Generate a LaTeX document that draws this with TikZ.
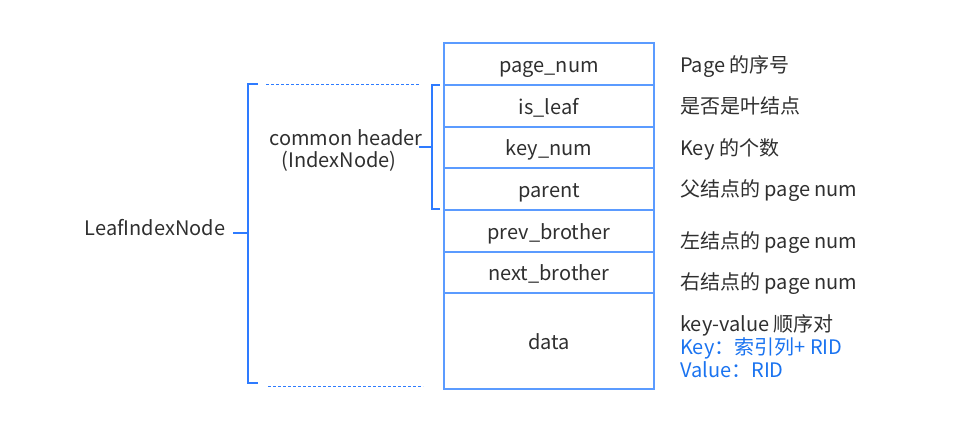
\documentclass[tikz,border=0pt]{standalone}
\usepackage{fontspec}
\setmainfont{Noto Sans CJK SC}
\begin{document}
\begin{tikzpicture}[x=1pt,y=-1pt,
  txt/.style={text=textgray,font=\fontsize{20}{22}\selectfont,inner sep=0pt,text height=14pt,text depth=4pt,yshift=-3pt},
  rtxt/.style={txt,anchor=west},
  btxt/.style={rtxt,text=textblue},
  cell/.style={draw=cellblue,line width=1.1pt},
  brace/.style={draw=braceblue,line width=1.6pt},
  guide/.style={draw=braceblue,line width=1pt,dash pattern=on 3pt off 2pt}]
\definecolor{textgray}{HTML}{2F2F2F}
\definecolor{textblue}{HTML}{1A73F0}
\definecolor{cellblue}{HTML}{5B9BFF}
\definecolor{braceblue}{HTML}{2E7BFF}
\useasboundingbox (0,0) rectangle (968,424);
% table cells
\foreach \a/\b/\n/\t in {43/85/c1/page\_num,85/127/c2/is\_leaf,127/168/c3/key\_num,168/210/c4/parent,210/252/c5/prev\_brother,252/293/c6/next\_brother,293/389/c7/data}{
  \draw[cell] (444,\a) rectangle (654,\b);
  \node[txt] (\n) at (549,{(\a+\b)/2}) {\t};
}
% right texts
\node[rtxt] (r1) at (680,64) {Page 的序号};
\node[rtxt] (r2) at (680,105) {是否是叶结点};
\node[rtxt] (r3) at (680,147) {Key 的个数};
\node[rtxt] (r4) at (680,188) {父结点的 page num};
\node[rtxt] (r5) at (680,240) {左结点的 page num};
\node[rtxt] (r6) at (680,281) {右结点的 page num};
\node[rtxt] (r7) at (680,323) {key-value 顺序对};
\node[btxt] (r8) at (680,346) {Key：索引列+ RID};
\node[btxt] (r9) at (680,369) {Value：RID};
% left texts
\node[txt] (ch) at (346,137) {common header};
\node[txt] (ix) at (339,159) {(IndexNode)};
\node[txt] (leaf) at (155,227) {LeafIndexNode};
% big bracket
\draw[brace] (258,84) -- (248,84) -- (248,383) -- (258,383);
\draw[brace] (248,233) -- (233,233);
\draw[guide] (266,84) -- (420,84);
\draw[guide] (268,386) -- (423,386);
% small bracket
\draw[brace] (440,85) -- (432,85) -- (432,209) -- (440,209);
\draw[brace] (432,147) -- (419,147);
\end{tikzpicture}
\end{document}
